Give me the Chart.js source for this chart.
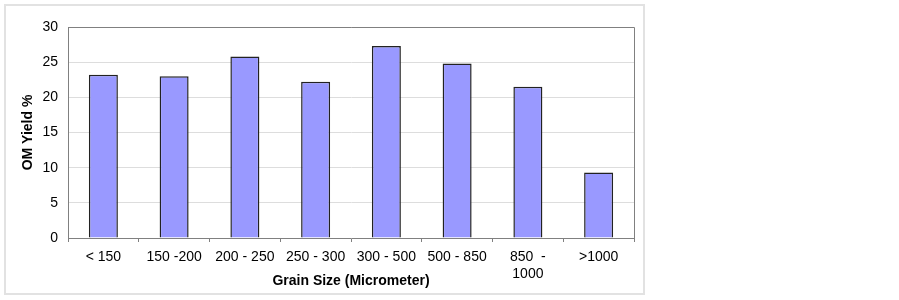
<!DOCTYPE html>
<html>
<head>
<meta charset="utf-8">
<script src="https://cdn.jsdelivr.net/npm/chart.js@4.4.0/dist/chart.umd.min.js"></script>
<style>
    body { margin: 0; background: #fff; }
    #wrap { width: 899px; height: 300px; position: relative; }
</style>
</head>
<body>
<div id="wrap"><canvas id="myChart" width="899" height="300"></canvas></div>
<script>
const categories = ['< 150', '150 -200', '200 - 250', '250 - 300', '300 - 500', '500 - 850', ['850  -', '1000'], '>1000'];
const omYield = [23.2, 23.0, 25.8, 22.2, 27.3, 24.8, 21.5, 9.3];
const yTicks = [0, 5, 10, 15, 20, 25, 30];

// frame around the whole chart + top/right border of the plot
const frames = {
    id: 'frames',
    beforeDraw(chart) {
        const c = chart.ctx;
        c.save();
        c.strokeStyle = '#e2e2e2';
        c.lineWidth = 2;
        c.strokeRect(5, 5, 639, 289);
        c.restore();
    },
    afterDraw(chart) {
        const a = chart.chartArea;
        const c = chart.ctx;
        c.save();
        c.strokeStyle = '#808080';
        c.lineWidth = 1;
        c.beginPath();
        c.moveTo(a.left, a.top + 0.5);
        c.lineTo(a.right + 0.5, a.top + 0.5);
        c.lineTo(a.right + 0.5, a.bottom);
        c.stroke();
        c.restore();
    }
};

function getChart(){
    const ctx = document.getElementById('myChart').getContext('2d');
    Chart.defaults.font.family = '"Liberation Sans", Arial, sans-serif';
    Chart.defaults.font.size = 14;
    Chart.defaults.color = '#000';
    new Chart(ctx, {
        type: 'bar',
        data: {
            labels: categories,
            datasets: [{
                label: 'OM Yield %',
                data: omYield,
                backgroundColor: '#9999ff',
                borderColor: '#222222',
                borderWidth: 1.5,
                barPercentage: 0.41,
                categoryPercentage: 1.0
            }]
        },
        options: {
            responsive: false,
            animation: false,
            layout: { padding: { left: 20, right: 265, top: 27, bottom: 10 } },
            plugins: {
                legend: { display: false },
                tooltip: { enabled: false }
            },
            scales: {
                x: {
                    afterFit: s => { s.height = 52; },
                    grid: { drawOnChartArea: false, color: '#808080', tickLength: 4, offset: true },
                    border: { color: '#808080' },
                    ticks: { maxRotation: 0, autoSkip: false, padding: 7 },
                    title: {
                        display: true,
                        text: 'Grain Size (Micrometer)',
                        font: { weight: 'bold', size: 14 },
                        padding: 0
                    }
                },
                y: {
                    min: 0,
                    max: 30,
                    afterFit: s => { s.width = 48; },
                    afterBuildTicks: s => { s.ticks = yTicks.map(v => ({ value: v })); },
                    grid: { color: '#dddddd', drawTicks: false },
                    border: { color: '#808080' },
                    ticks: { padding: 10 },
                    title: {
                        display: true,
                        text: 'OM Yield %',
                        font: { weight: 'bold', size: 14 },
                        padding: 0
                    }
                }
            }
        },
        plugins: [frames]
    });
}

getChart();
</script>
</body>
</html>
